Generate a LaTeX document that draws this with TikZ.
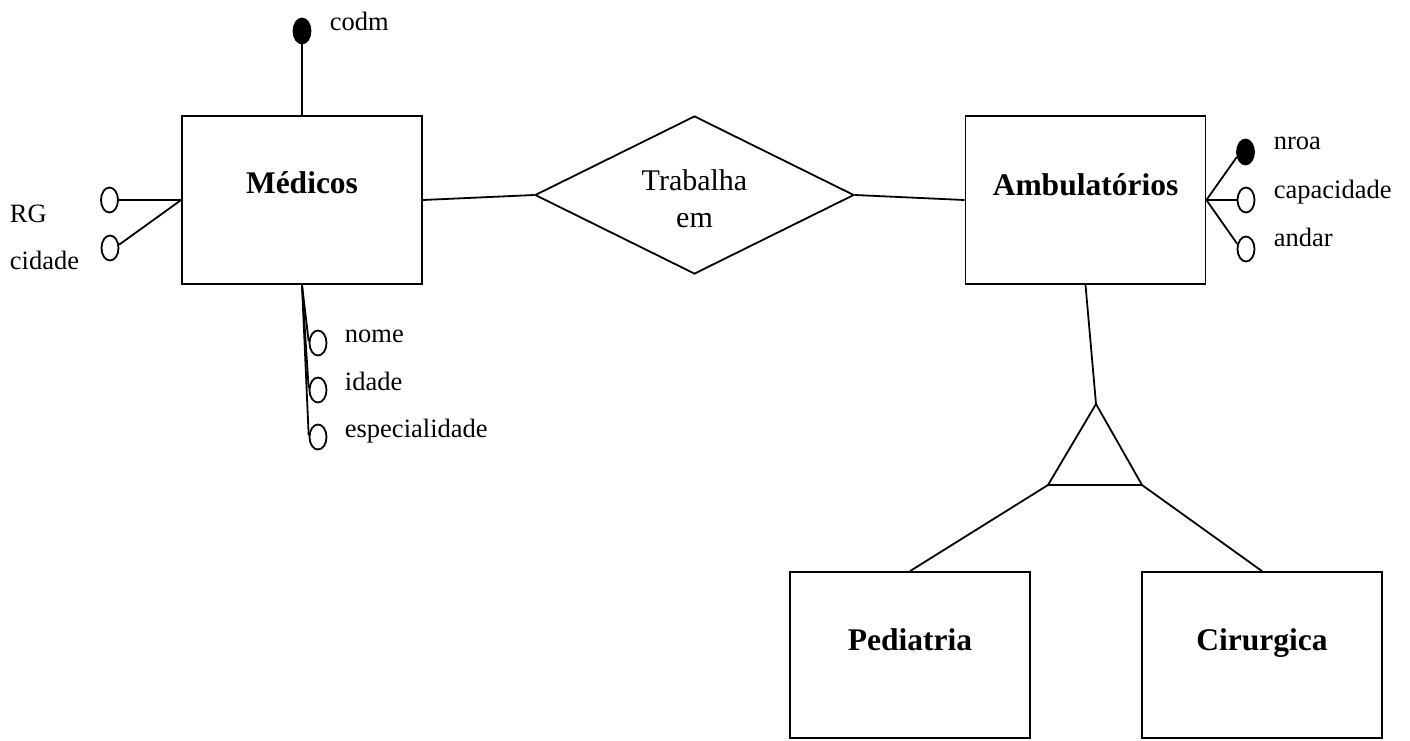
\documentclass[tikz,border=0pt]{standalone}
\usepackage{fontspec}
\setmainfont{Liberation Serif}
\usetikzlibrary{shapes.geometric}
\begin{document}
\begin{tikzpicture}[x=1pt,y=-1pt,line width=1.8pt,
  entity/.style={draw,rectangle,minimum width=240pt,minimum height=168pt,inner sep=0pt},
  attr/.style={draw,ellipse,minimum width=17pt,minimum height=25pt,inner sep=0pt,fill=white},
  keyattr/.style={attr,fill=black},
  rel/.style={draw,diamond,minimum width=319pt,minimum height=158pt,inner sep=0pt},
  etext/.style={font=\fontsize{31.5}{36}\selectfont\bfseries,inner sep=0pt,anchor=base},
  atext/.style={font=\fontsize{26.5}{30}\selectfont,inner sep=0pt,anchor=base west},
  rtext/.style={font=\fontsize{30}{34}\selectfont,inner sep=0pt,anchor=base}]
\useasboundingbox (0,0) rectangle (1410,740);

% entities
\node[entity] (med) at (302,200) {};
\node[etext] (medt) at (302,193) {Médicos};
\node[entity] (amb) at (1085.5,200) {};
\node[etext] (ambt) at (1085.5,195) {Ambulatórios};
\node[entity,minimum height=166pt] (ped) at (910,655) {};
\node[etext] (pedt) at (910,650) {Pediatria};
\node[entity,minimum height=166pt] (cir) at (1262,655) {};
\node[etext] (cirt) at (1262,650) {Cirurgica};

% relationship
\node[rel] (rel) at (694.5,195) {};
\node[rtext] (relt1) at (694.5,190) {Trabalha};
\node[rtext] (relt2) at (694.5,227) {em};

% specialisation triangle
\coordinate (tt) at (1096,404);
\coordinate (tl) at (1048,485);
\coordinate (tr) at (1142,485);
\draw[line join=miter] (tt) -- (tl) -- (tr) -- cycle;

% connectors
\draw (med.east) -- (rel.west);
\draw (rel.east) -- (amb.west);
\draw (amb.south) -- (tt);
\draw (tl) -- (ped.north);
\draw (tr) -- (cir.north);

% Medicos attributes
\node[keyattr] (codm) at (302,31) {};
\draw (codm.south) -- (med.north);
\node[atext] (codmt) at (329,30) {codm};

\node[attr] (rg) at (109.5,200) {};
\node[attr] (cid) at (110,248) {};
\draw (rg.east) -- (med.west);
\draw (cid.20) -- (med.west);
\node[atext] (rgt) at (9,222) {RG};
\node[atext] (cidt) at (9,269) {cidade};

\node[attr] (nome) at (318,343) {};
\node[attr] (idade) at (318,390) {};
\node[attr] (esp) at (318,437) {};
\draw (med.south) -- (nome.170);
\draw (med.south) -- (idade.170);
\draw (med.south) -- (esp.170);
\node[atext] (nomet) at (344,342) {nome};
\node[atext] (idadet) at (344,390) {idade};
\node[atext] (espt) at (344,437) {especialidade};

% Ambulatorios attributes
\node[keyattr] (nroa) at (1245.5,152) {};
\node[attr] (cap) at (1246,200) {};
\node[attr] (andar) at (1246,249) {};
\draw (amb.east) -- (nroa.210);
\draw (amb.east) -- (cap.west);
\draw (amb.east) -- (andar.150);
\node[atext] (nroat) at (1273,149) {nroa};
\node[atext] (capt) at (1273,198) {capacidade};
\node[atext] (andart) at (1273,246) {andar};
\end{tikzpicture}
\end{document}
